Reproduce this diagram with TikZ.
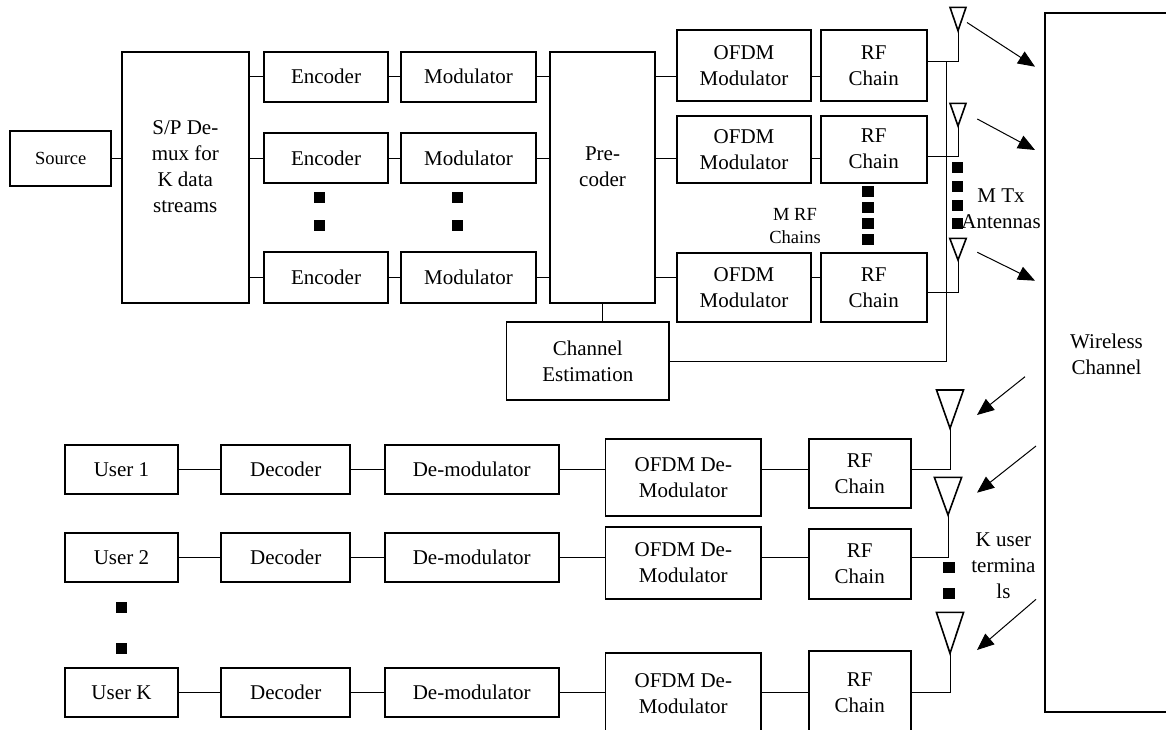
\documentclass[tikz,border=0pt]{standalone}
\usepackage{fontspec}
\setmainfont{Liberation Serif}
\usetikzlibrary{arrows.meta}

\begin{document}
\begin{tikzpicture}[x=1pt,y=-1pt]
      \tikzstyle{blk}=[rectangle, draw=black, line width=1.8pt, inner sep=0pt, align=center, font=\fontsize{21}{26}\selectfont]
      \tikzstyle{txt}=[inner sep=0pt, align=center, font=\fontsize{21}{26}\selectfont]
      \tikzstyle{small}=[inner sep=0pt, align=center, font=\fontsize{18.5}{23}\selectfont]
      \tikzstyle{dot}=[rectangle, fill=black, inner sep=0pt, minimum size=11.5pt]
      \tikzstyle{link}=[line width=1pt]
      \tikzstyle{arr}=[line width=1pt, -{Triangle[length=17pt,width=14pt]}]
      \tikzstyle{ant}=[line width=1.6pt]

      \useasboundingbox (0,0) rectangle (1166,729);

      % transmitter
      \node[blk, minimum width=100.7, minimum height=54.7, font=\fontsize{18.5}{23}\selectfont] (src) at (60.7,158.4) {Source};
      \node[blk, minimum width=127, minimum height=251] (sp) at (185.3,177.2) {};
      \node[txt] (sptxt) at (185.3,167) {S/P De-\\mux for\\K data\\streams};
      \foreach \r/\y/\h in {1/76.7/50, 2/158.3/50, 3/277.5/50.4} {
        \node[blk, minimum width=124.7, minimum height=\h] (enc\r) at (326,\y) {Encoder};
        \node[blk, minimum width=134.7, minimum height=\h] (mod\r) at (468.5,\y) {Modulator};
      }
      \node[blk, minimum width=105, minimum height=251] (pre) at (602.5,177.2) {};
      \node[txt] (pretxt) at (602.5,167) {Pre-\\coder};
      \node[blk, minimum width=162.5, minimum height=77.7] (chest) at (587.8,361.2) {Channel\\Estimation};
      \foreach \r/\y/\h in {1/65.5/71, 2/149.2/67, 3/287.5/68.4} {
        \node[blk, minimum width=134.3, minimum height=\h] (ofdm\r) at (744,\y) {OFDM\\Modulator};
        \node[blk, minimum width=106.1, minimum height=\h] (rf\r) at (873.7,\y) {RF\\Chain};
      }

      % channel
      \node[blk, minimum width=123, minimum height=698.4] (ch) at (1106.5,362.5) {};
      \node[txt] (chtxt) at (1106.5,354) {Wireless\\Channel};

      % receiver
      \foreach \r/\y/\h in {1/469.5/49, 2/557.2/49, K/692.5/48.4} {
        \node[blk, minimum width=113, minimum height=\h] (usr\r) at (121.5,\y) {User \r};
        \node[blk, minimum width=129, minimum height=\h] (dec\r) at (285.7,\y) {Decoder};
        \node[blk, minimum width=174.1, minimum height=\h] (dem\r) at (471.7,\y) {De-modulator};
      }
      \foreach \r/\y/\h/\yy/\hh in {1/477.5/76.4/473.5/68.4, 2/562.8/72.3/564/70, K/693.9/82.3/692.9/84.3} {
        \node[blk, minimum width=155.8, minimum height=\h] (odm\r) at (683.3,\y) {OFDM De-\\Modulator};
        \node[blk, minimum width=102, minimum height=\hh] (rrf\r) at (859.7,\yy) {RF\\Chain};
      }

      % antennas
      \foreach \n/\x/\y/\w/\h in {t1/958/30.7/16/23.4, t2/958/126/16/22.7, t3/958/260/16.5/21.7,
                                  r1/950/428.3/27/38.3, r2/948/515/27.3/37.7, rK/950/653.3/27.2/41} {
        \coordinate (ant\n) at (\x,\y);
        \draw[ant] (ant\n) -- ++(-\w/2,-\h) -- ++(\w,0) -- cycle;
      }

      % links
      \draw[link] (src.east) -- (src.east -| sp.west);
      \foreach \r in {1,2,3} {
        \draw[link] (sp.east |- enc\r) -- (enc\r.west);
        \draw[link] (enc\r) -- (mod\r);
        \draw[link] (mod\r) -- (mod\r -| pre.west);
        \draw[link] (pre.east |- mod\r) -- (ofdm\r.west |- mod\r);
        \draw[link] (ofdm\r.east |- mod\r) -- (rf\r.west |- mod\r);
      }
      \draw[link] ([yshift=3.8pt]rf1.east) -| (antt1);
      \draw[link] ([yshift=-7.5pt]rf2.east) -| (antt2);
      \draw[link] ([yshift=-5.2pt]rf3.east) -| (antt3);
      \coordinate (bus) at (946,61.7);
      \draw[link] (chest.east) -| (bus);
      \draw[link] (pre.south) -- (pre.south |- chest.north);
      \foreach \r in {1,2,K} {
        \draw[link] (usr\r) -- (dec\r);
        \draw[link] (dec\r) -- (dem\r);
        \draw[link] (dem\r.east) -- (odm\r.west |- usr\r);
        \draw[link] (odm\r.east |- usr\r) -- (rrf\r.west |- usr\r);
        \draw[link] (rrf\r.east |- usr\r) -| (antr\r);
      }

      % radio arrows
      \coordinate (tx1a) at (967,22.5);   \coordinate (tx1b) at (1035,66.7);
      \coordinate (tx2a) at (977.3,119);  \coordinate (tx2b) at (1035,150);
      \coordinate (tx3a) at (977.3,252.3); \coordinate (tx3b) at (1035,280.7);
      \coordinate (rx1a) at (1025,376.7); \coordinate (rx1b) at (977,415);
      \coordinate (rx2a) at (1036,446);   \coordinate (rx2b) at (977,492.7);
      \coordinate (rx3a) at (1036,599.3); \coordinate (rx3b) at (977,650);
      \foreach \a in {tx1,tx2,tx3,rx1,rx2,rx3}
        \draw[arr] (\a a) -- (\a b);

      % dots
      \foreach \n/\x/\y in {e1/319.6/197.7, e2/319.6/225.7, m1/457.3/197.7, m2/457.3/225.7,
                            f1/867.9/191.7, f2/867.9/207.7, f3/867.9/223.7, f4/867.9/239.7,
                            a1/957.4/167.7, a2/957.4/186.7, a3/957.4/205.7, a4/957.4/223.3,
                            u1/121.7/607.3, u2/121.7/648.7, k1/949.2/567.7, k2/949.2/593.3}
        \node[dot] (dot\n) at (\x,\y) {};

      % labels
      \node[small] (mrf) at (795,226) {M RF\\Chains};
      \node[txt] (mtx) at (1001,209) {M Tx\\Antennas};
      \node[txt] (kut) at (1003.4,566) {K user\\termina\\ls};
\end{tikzpicture}
\end{document}
